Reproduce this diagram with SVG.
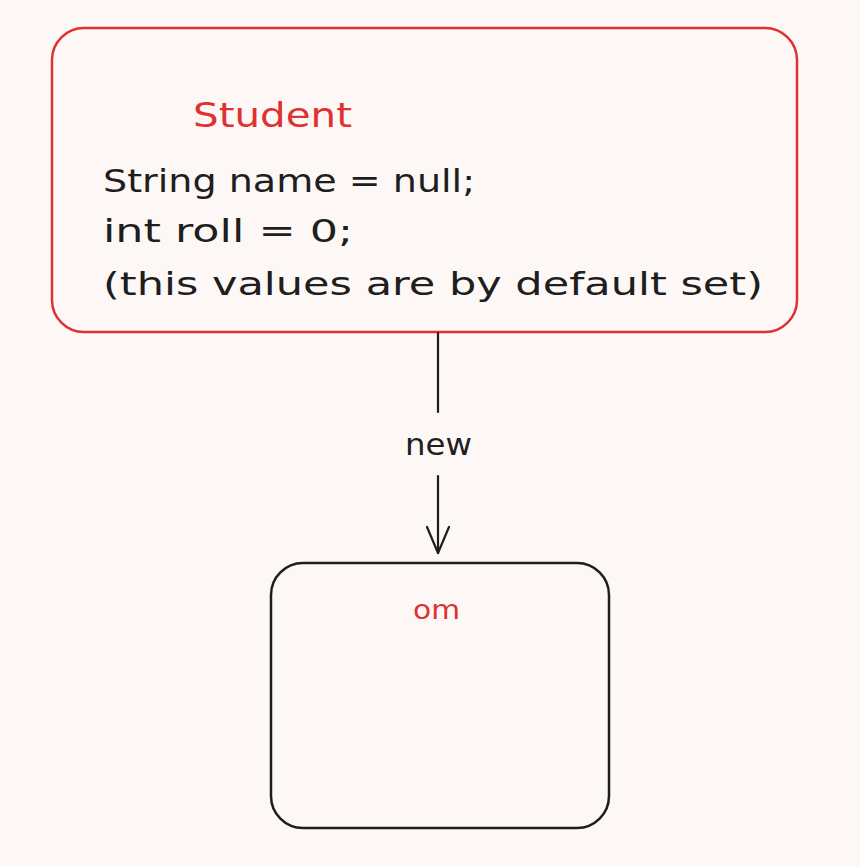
<svg xmlns="http://www.w3.org/2000/svg" width="860" height="866" viewBox="0 0 860 866">
<style>
.txt{font-family:"DejaVu Sans","Liberation Sans",sans-serif;}
.red{fill:#e03131;}
.blk{fill:#1e1e1e;}
.conn{stroke:#1e1e1e;stroke-width:2.2;fill:none;stroke-linecap:round;stroke-linejoin:round;}
</style>
<rect x="0" y="0" width="860" height="866" fill="#fdf8f6"/>
<g id="student">
<rect x="52" y="28" width="745" height="304" rx="32" ry="32" fill="none" stroke="#e03131" stroke-width="2.5"/>
<text class="txt red" x="193" y="127" font-size="33" textLength="159" lengthAdjust="spacingAndGlyphs">Student</text>
<text class="txt blk" x="103" y="192" font-size="32" textLength="372" lengthAdjust="spacingAndGlyphs">String name = null;</text>
<text class="txt blk" x="103" y="242" font-size="32" textLength="250" lengthAdjust="spacingAndGlyphs">int roll = 0;</text>
<text class="txt blk" x="103" y="295" font-size="32" textLength="660" lengthAdjust="spacingAndGlyphs">(this values are by default set)</text>
</g>
<g id="connectors">
<path class="conn" d="M438 333 L438 412"/>
<path class="conn" d="M438 476 L438 553"/>
<path class="conn" d="M427 527 L438 553 L449 527"/>
<text class="txt blk" x="405" y="455" font-size="30" textLength="67" lengthAdjust="spacingAndGlyphs">new</text>
</g>
<g id="om">
<rect x="271" y="563" width="338" height="265" rx="32" ry="32" fill="none" stroke="#1e1e1e" stroke-width="2.5"/>
<text class="txt red" x="413" y="619" font-size="26" textLength="47" lengthAdjust="spacingAndGlyphs">om</text>
</g>
</svg>
